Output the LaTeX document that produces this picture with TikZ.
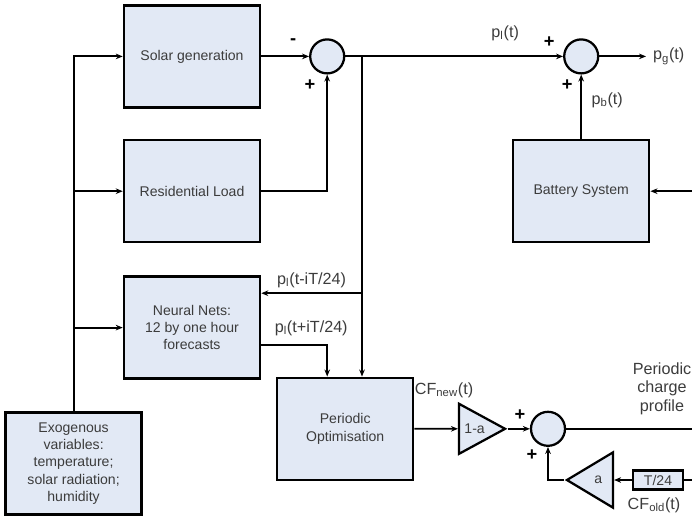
\documentclass[tikz,border=0pt]{standalone}
\usepackage{fontspec}
\setmainfont{Liberation Sans}
\usetikzlibrary{arrows.meta,shapes.geometric}
\definecolor{boxfill}{RGB}{226,233,245}
\definecolor{txt}{RGB}{60,60,60}

\begin{document}
\begin{tikzpicture}[
  block/.style={draw,fill=boxfill,line width=1.8pt,minimum width=3.4cm,
                minimum height=2.55cm,align=center,text=txt,
                font=\fontsize{10}{12.3}\selectfont},
  sumnode/.style={circle,draw,fill=boxfill,line width=1.6pt,
                  minimum size=0.85cm,inner sep=0pt},
  gain/.style={isosceles triangle,isosceles triangle stretches,draw,
               fill=boxfill,line width=1.6pt,minimum height=1.15cm,
               minimum width=1.25cm,inner sep=0pt,text=txt,
               font=\fontsize{10}{12}\selectfont},
  delay/.style={draw,fill=boxfill,line width=1.6pt,minimum width=1.25cm,
                minimum height=0.47cm,inner sep=0pt,text=txt,
                font=\fontsize{10}{12}\selectfont},
  sig/.style={font=\fontsize{11.5}{13.5}\selectfont,align=center,text=txt},
  sgn/.style={font=\fontsize{13}{13}\selectfont\bfseries},
  arr/.style={line width=1.3pt,-{Stealth[length=5pt,width=4pt]}},
  wire/.style={line width=1.3pt}]
  \useasboundingbox (0,0) rectangle (17.3,-12.95);

  % blocks
  \node[block] (solar) at (4.8,-1.41) {Solar generation};
  \node[block] (load) at (4.8,-4.78) {Residential Load};
  \node[block] (nn) at (4.8,-8.19) {Neural Nets:\\12 by one hour\\forecasts};
  \node[block] (exo) at (1.84,-11.59)
    {Exogenous\\variables:\\temperature;\\solar radiation;\\humidity};
  \node[block] (opt) at (8.63,-10.72) {Periodic\\Optimisation};
  \node[block] (bat) at (14.53,-4.78) {Battery System};

  % summing junctions, gains and delay
  \node[sumnode] (s1) at (8.18,-1.41) {};
  \node[sumnode] (s2) at (14.53,-1.41) {};
  \node[sumnode] (s3) at (13.7,-10.72) {};
  \node[gain,anchor=apex] (g1) at (12.7,-10.72) {1-a};
  \node[gain,anchor=apex,shape border rotate=180,minimum width=1.38cm]
    (g2) at (14.1,-12.0) {a};
  \node[delay] (dly) at (16.45,-12.0) {T/24};

  % free ends at the picture border
  \coordinate (jn) at (9.05,-1.41);
  \coordinate (jnn) at (9.05,-7.33);
  \coordinate (pg) at (16.15,-1.41);
  \coordinate (batin) at (17.3,-4.78);
  \coordinate (cpout) at (17.3,-10.72);
  \coordinate (cfin) at (17.3,-12.0);

  % exogenous inputs
  \draw[arr] (exo.north) |- (solar.west);
  \draw[arr] (exo.north |- load.west) -- (load.west);
  \draw[arr] (exo.north |- nn.west) -- (nn.west);

  % net load
  \draw[arr] (solar) -- (s1);
  \draw[arr] (load.east) -| (s1.south);
  \draw[arr] (s1) -- (s2);
  \draw[arr] (jn) -- (jn |- opt.north);
  \draw[arr] (jnn) -- (jnn -| nn.east)
    node[sig,midway,above] (lpast) {p\textsubscript{l}(t-iT/24)};
  \draw[arr] ([yshift=-0.44cm]nn.east) -| ([xshift=-0.45cm]opt.north);
  \node[sig] (lfut) at (7.78,-8.2) {p\textsubscript{l}(t+iT/24)};
  \node[sig] (lnet) at (12.63,-0.83) {p\textsubscript{l}(t)};

  % grid power
  \draw[arr] (s2) -- (pg) node[sig,right=1pt] (lgrid) {p\textsubscript{g}(t)};
  \draw[arr] (bat) -- (s2);
  \node[sig] (lbat) at (15.18,-2.5) {p\textsubscript{b}(t)};
  \draw[arr] (batin) -- (bat);

  % charge profile update
  \draw[arr] (opt) -- (g1);
  \node[sig] (lnew) at (11.1,-9.75) {CF\textsubscript{new}(t)};
  \draw[arr] (g1.apex) -- (s3);
  \draw[wire] (s3) -- (cpout);
  \node[sig] (lprof) at (16.55,-9.72) {Periodic\\charge\\profile};
  \draw[wire] (cfin) -- (dly);
  \draw[arr] (dly) -- (g2);
  \draw[arr] (g2.apex) -| (s3.south);
  \node[sig] (lold) at (16.35,-12.63) {CF\textsubscript{old}(t)};

  % signs
  \node[sgn] (m1) at (7.33,-1.05) {-};
  \node[sgn] (p1) at (7.75,-2.13) {+};
  \node[sgn] (p2) at (13.73,-1.05) {+};
  \node[sgn] (p3) at (14.18,-2.13) {+};
  \node[sgn] (p4) at (13.0,-10.38) {+};
  \node[sgn] (p5) at (13.3,-11.38) {+};
\end{tikzpicture}
\end{document}
